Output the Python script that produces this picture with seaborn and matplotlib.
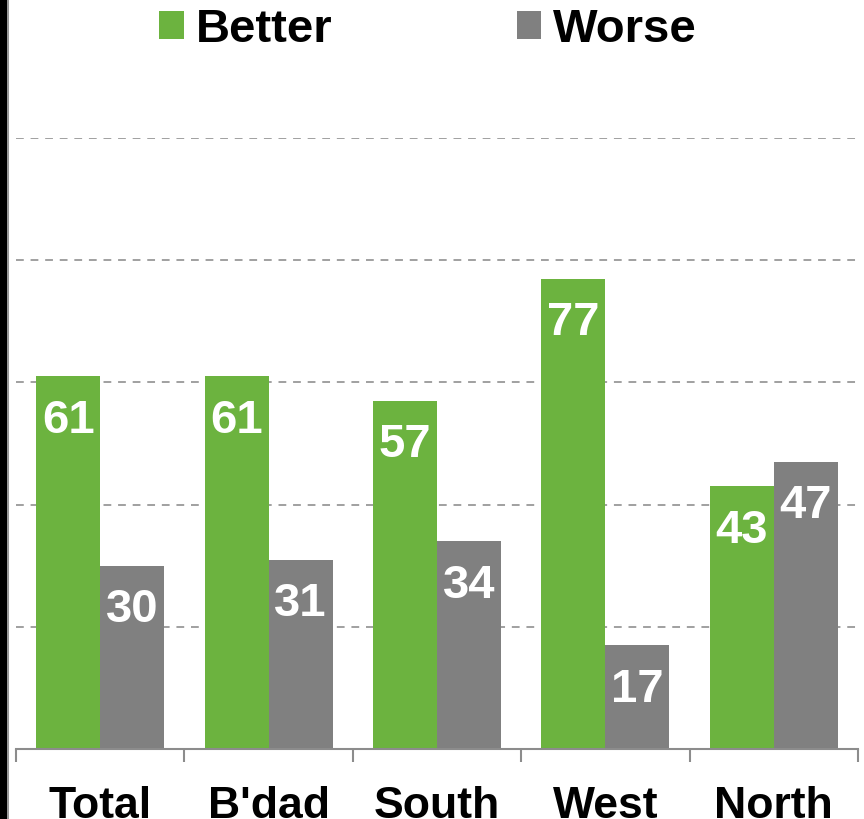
import matplotlib
matplotlib.use("Agg")
import matplotlib.pyplot as plt
import seaborn as sns
import pandas as pd
from matplotlib.patches import Rectangle, Patch

categories = ["Total", "B'dad", "South", "West", "North"]
better = [61, 61, 57, 77, 43]
worse = [30, 31, 34, 17, 47]
series_names = ["Better", "Worse"]
colors = ["#6CB33F", "#808080"]

df = pd.DataFrame({
    "cat": categories * 2,
    "series": [series_names[0]] * len(categories) + [series_names[1]] * len(categories),
    "value": better + worse,
})

sns.set_theme(style="white")
plt.rcParams["font.family"] = ["Liberation Sans", "DejaVu Sans"]
plt.rcParams["font.weight"] = "bold"
plt.rcParams["text.color"] = "black"

W, H = 864, 819
fig = plt.figure(figsize=(W / 100, H / 100), dpi=100)
ax = fig.add_axes([16 / W, (H - 749) / H, (858 - 16) / W, (749 - 138) / H])

sns.barplot(data=df, x="cat", y="value", hue="series", order=categories,
            hue_order=series_names, palette=colors, width=0.76, saturation=1,
            legend=False, ax=ax, linewidth=0)

ax.set_ylim(0, 100)
ax.set_xlim(-0.5, len(categories) - 0.5)
for yv in [20, 40, 60, 80, 100]:
    ax.axhline(yv, color="#A0A0A0", lw=1.4, ls=(0, (4, 3.5)), zorder=0)

for s in ["top", "right", "left"]:
    ax.spines[s].set_visible(False)
ax.spines["bottom"].set_color("#8C8C8C")
ax.spines["bottom"].set_linewidth(1.5)
ax.set_yticks([])
ax.set_xlabel("")
ax.set_ylabel("")
ax.set_xticks(range(len(categories)))
ax.set_xticklabels(categories, fontsize=32, fontweight="bold", color="black")
ax.tick_params(axis="x", which="major", length=0, pad=27)
ax.set_xticks([i - 0.5 for i in range(len(categories) + 1)], minor=True)
ax.tick_params(axis="x", which="minor", length=9, width=1.5, color="#8C8C8C",
               direction="out", bottom=True)

for cont in ax.containers:
    for bar in cont:
        h = bar.get_height()
        ax.annotate(f"{int(round(h))}", (bar.get_x() + bar.get_width() / 2, h),
                    xytext=(0, -32), textcoords="offset points",
                    ha="center", va="center", fontsize=34, fontweight="bold",
                    color="white")

handles = [Patch(facecolor=c, edgecolor="none") for c in colors]
leg = fig.legend(handles, series_names, loc="center", bbox_to_anchor=(428 / W, 1 - 30 / H),
                 ncol=2, frameon=False, prop={"size": 34, "weight": "bold"},
                 handlelength=0.52, handleheight=0.52, handletextpad=0.25,
                 columnspacing=3.9, borderpad=0, borderaxespad=0)
for t in leg.get_texts():
    t.set_color("black")

fig.patches.append(Rectangle((0, 0), 7 / W, 1, transform=fig.transFigure,
                             facecolor="black", edgecolor="none", zorder=10))
fig.patches.append(Rectangle((7 / W, 0), 2 / W, 1, transform=fig.transFigure,
                             facecolor="#9A9A9A", edgecolor="none", zorder=10))

fig.savefig("out.png", dpi=100)
